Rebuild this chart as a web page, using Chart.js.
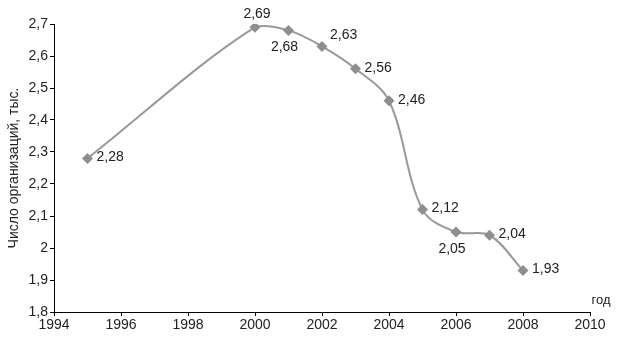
<!DOCTYPE html>
<html>
<head>
<meta charset="utf-8">
<script src="https://cdn.jsdelivr.net/npm/chart.js@4"></script>
<style>
  html, body { margin: 0; padding: 0; background: #fff; }
  #wrap { width: 619px; height: 337px; }
</style>
</head>
<body>
<div id="wrap"><canvas id="myChart" width="619" height="337"></canvas></div>
<script>
var years = [1995, 2000, 2001, 2002, 2003, 2004, 2005, 2006, 2007, 2008];
var values = [2.28, 2.69, 2.68, 2.63, 2.56, 2.46, 2.12, 2.05, 2.04, 1.93];
// where each value label sits relative to its point
var labelPlace = ['right', 'above', 'below', 'upright', 'right', 'right', 'right', 'below', 'right', 'right'];
var yTitle = 'Число организаций, тыс.';
var xTitle = 'год';

function comma(v) {
    return String(Math.round(v * 100) / 100).replace('.', ',');
}

var points = [];
for (var i = 0; i < years.length; i++) {
    points.push({x: years[i], y: values[i]});
}

var pointLabels = {
    id: 'pointLabels',
    afterDatasetsDraw: function(chart) {
        var ctx = chart.ctx;
        var meta = chart.getDatasetMeta(0);
        ctx.save();
        ctx.font = '14px "Liberation Sans", Arial, sans-serif';
        ctx.fillStyle = '#222';
        meta.data.forEach(function(pt, i) {
            var txt = comma(values[i]);
            if (labelPlace[i] == 'above') {
                ctx.textAlign = 'center';
                ctx.textBaseline = 'bottom';
                ctx.fillText(txt, pt.x + 2, pt.y - 6);
            } else if (labelPlace[i] == 'below') {
                ctx.textAlign = 'center';
                ctx.textBaseline = 'top';
                ctx.fillText(txt, pt.x - 4, pt.y + 10);
            } else if (labelPlace[i] == 'upright') {
                ctx.textAlign = 'left';
                ctx.textBaseline = 'middle';
                ctx.fillText(txt, pt.x + 8, pt.y - 11);
            } else {
                ctx.textAlign = 'left';
                ctx.textBaseline = 'middle';
                ctx.fillText(txt, pt.x + 9, pt.y - 1);
            }
        });
        // axis name at the end of x axis
        var xs = chart.scales.x;
        ctx.textAlign = 'center';
        ctx.textBaseline = 'bottom';
        ctx.font = '13px "Liberation Sans", Arial, sans-serif';
        ctx.fillText(xTitle, xs.right + 11, xs.top - 5);
        ctx.restore();
    }
};

var ctx = document.getElementById("myChart");
var myChart = new Chart(ctx, {
    type: 'line',
    data: {
        datasets: [{
            data: points,
            borderColor: '#999999',
            backgroundColor: '#8e8e8e',
            borderWidth: 2,
            tension: 0.35,
            pointStyle: 'rectRot',
            pointRadius: 5.5,
            pointBorderWidth: 0,
            fill: false
        }]
    },
    options: {
        responsive: false,
        animation: false,
        layout: {
            padding: {left: 0, right: 29, top: 24, bottom: 0}
        },
        plugins: {
            legend: { display: false },
            tooltip: { enabled: false }
        },
        scales: {
            x: {
                type: 'linear',
                min: 1994,
                max: 2010,
                ticks: {
                    stepSize: 2,
                    color: '#222',
                    padding: 1,
                    font: { family: '"Liberation Sans", Arial, sans-serif', size: 14 },
                    callback: function(value) { return String(value); }
                },
                grid: {
                    drawOnChartArea: false,
                    drawTicks: true,
                    tickLength: 4,
                    color: '#000'
                },
                border: { color: '#000', width: 1 },
                afterFit: function(scale) { scale.height = 25; }
            },
            y: {
                min: 1.8,
                max: 2.7,
                ticks: {
                    stepSize: 0.1,
                    color: '#222',
                    padding: 2,
                    font: { family: '"Liberation Sans", Arial, sans-serif', size: 14 },
                    callback: function(value) { return comma(Math.round(value * 10) / 10); }
                },
                title: {
                    display: true,
                    text: yTitle,
                    color: '#222',
                    padding: {top: 6, bottom: 0},
                    font: { family: '"Liberation Sans", Arial, sans-serif', size: 14 }
                },
                grid: {
                    drawOnChartArea: false,
                    drawTicks: true,
                    tickLength: 4,
                    color: '#000'
                },
                border: { color: '#000', width: 1 },
                afterFit: function(scale) { scale.width = 54; }
            }
        }
    },
    plugins: [pointLabels]
});
</script>
</body>
</html>
